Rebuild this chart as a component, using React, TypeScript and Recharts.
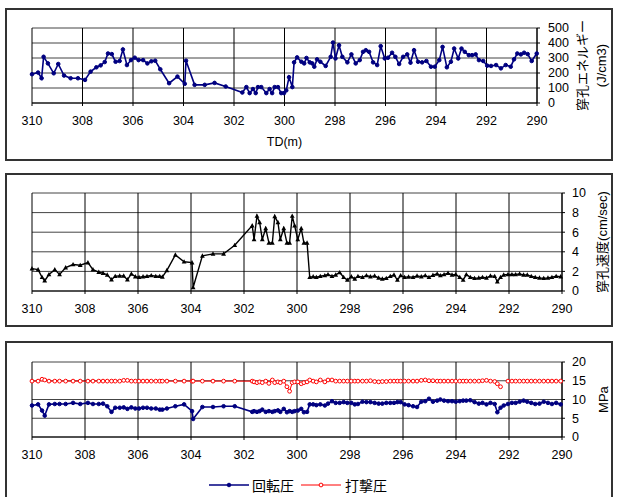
import React from 'react'
import { LineChart, Line, XAxis, YAxis, CartesianGrid } from 'recharts'

const depthTicks = [310, 308, 306, 304, 302, 300, 298, 296, 294, 292, 290]
const energyTicks = [0, 100, 200, 300, 400, 500]
const speedTicks = [0, 2, 4, 6, 8, 10]
const pressureTicks = [0, 5, 10, 15, 20]

// 穿孔エネルギー (J/cm3)
const energyDepth = [
  310.0, 309.76, 309.62, 309.54, 309.37, 309.14, 308.96, 308.73, 308.47, 308.18,
  307.9, 307.68, 307.45, 307.28, 307.12, 306.99, 306.84, 306.69, 306.53, 306.4,
  306.24, 306.08, 305.93, 305.78, 305.6, 305.43, 305.27, 305.12, 304.92, 304.57,
  304.24, 303.95, 303.9, 303.56, 303.16, 302.77, 302.33, 301.67, 301.51, 301.38,
  301.25, 301.14, 301.05, 300.92, 300.72, 300.59, 300.49, 300.39, 300.26, 300.13,
  300.02, 299.93, 299.82, 299.69, 299.62, 299.5, 299.33, 299.22, 299.13, 299.0,
  298.9, 298.82, 298.71, 298.58, 298.37, 298.17, 298.08, 297.98, 297.84, 297.71,
  297.51, 297.35, 297.18, 297.02, 296.89, 296.78, 296.65, 296.49, 296.33, 296.19,
  296.03, 295.9, 295.74, 295.61, 295.46, 295.3, 295.14, 295.01, 294.87, 294.71,
  294.55, 294.38, 294.2, 294.05, 293.87, 293.74, 293.57, 293.41, 293.28, 293.12,
  292.99, 292.86, 292.7, 292.57, 292.43, 292.3, 292.13, 291.97, 291.82, 291.62,
  291.43, 291.24, 291.04, 290.91, 290.78, 290.64, 290.51, 290.37, 290.21, 290.01,
]
const energy = [
  192, 203, 165, 308, 264, 198, 260, 183, 165, 165,
  154, 209, 238, 251, 273, 330, 326, 275, 280, 357,
  253, 286, 302, 286, 286, 264, 278, 282, 225, 132,
  176, 128, 282, 121, 121, 134, 110, 70, 106, 66,
  93, 66, 106, 106, 66, 93, 66, 106, 106, 66,
  66, 84, 172, 106, 271, 304, 275, 264, 300, 271,
  264, 242, 291, 275, 247, 308, 403, 297, 385, 308,
  271, 324, 264, 286, 341, 352, 341, 271, 253, 379,
  297, 302, 335, 308, 260, 308, 324, 269, 352, 275,
  271, 280, 242, 242, 286, 374, 238, 275, 363, 297,
  363, 341, 319, 319, 324, 286, 280, 249, 247, 253,
  231, 253, 242, 291, 330, 324, 335, 326, 280, 330,
]

// 穿孔速度 / 回転圧 / 打撃圧 share the same depths
const depth = [
  310.0, 309.77, 309.62, 309.52, 309.36, 309.14, 308.96, 308.73, 308.45, 308.18,
  307.89, 307.7, 307.48, 307.32, 307.16, 307.0, 306.86, 306.69, 306.54, 306.4,
  306.25, 306.1, 305.96, 305.81, 305.66, 305.5, 305.33, 305.18, 305.08, 304.91,
  304.59, 304.26, 303.96, 303.92, 303.57, 303.17, 302.77, 302.35, 301.69, 301.62,
  301.51, 301.41, 301.31, 301.18, 301.06, 300.93, 300.84, 300.72, 300.63, 300.5,
  300.38, 300.28, 300.18, 300.09, 299.97, 299.84, 299.74, 299.62, 299.52, 299.39,
  299.27, 299.12, 298.95, 298.83, 298.68, 298.54, 298.39, 298.24, 298.1, 297.95,
  297.82, 297.7, 297.53, 297.38, 297.23, 297.07, 296.92, 296.78, 296.63, 296.48,
  296.34, 296.21, 296.09, 295.94, 295.79, 295.62, 295.47, 295.31, 295.16, 295.02,
  294.87, 294.71, 294.59, 294.45, 294.3, 294.15, 294.01, 293.86, 293.73, 293.61,
  293.46, 293.3, 293.14, 293.0, 292.85, 292.7, 292.54, 292.44, 292.32, 292.2,
  292.04, 291.89, 291.75, 291.6, 291.45, 291.31, 291.16, 291.01, 290.85, 290.69,
  290.53, 290.38, 290.22, 290.05,
]
const speed = [
  2.28, 2.18, 1.4, 1.05, 1.68, 2.18, 1.68, 2.39, 2.7, 2.63,
  2.9, 2.18, 1.93, 1.82, 1.65, 1.16, 1.5, 1.54, 1.54, 1.16,
  1.75, 1.47, 1.4, 1.47, 1.5, 1.58, 1.5, 1.5, 1.44, 2.1,
  3.68, 2.98, 2.9, 0.35, 3.58, 3.79, 3.79, 4.67, 6.67, 5.26,
  7.65, 7.0, 5.26, 6.39, 4.91, 4.91, 7.61, 7.0, 5.26, 6.39,
  4.91, 4.91, 7.65, 6.67, 5.26, 6.39, 4.91, 4.91, 1.4, 1.47,
  1.4, 1.5, 1.58, 1.68, 1.5, 1.65, 1.89, 1.4, 1.12, 1.47,
  1.23, 1.5, 1.4, 1.58, 1.47, 1.54, 1.33, 1.23, 1.3, 1.5,
  1.65, 1.12, 1.58, 1.4, 1.44, 1.4, 1.54, 1.47, 1.58, 1.4,
  1.61, 1.75, 1.58, 1.68, 1.82, 1.65, 1.68, 1.4, 1.12, 1.68,
  1.4, 1.3, 1.33, 1.4, 1.33, 1.54, 1.5, 0.95, 1.4, 1.65,
  1.68, 1.68, 1.68, 1.75, 1.65, 1.65, 1.5, 1.4, 1.33, 1.3,
  1.33, 1.4, 1.5, 1.47,
]
const rotation = [
  8.4, 8.7, 7.05, 5.7, 8.7, 8.8, 8.8, 8.8, 9.1, 8.8,
  9.1, 8.8, 8.8, 8.9, 8.2, 6.7, 7.8, 7.8, 7.9, 7.5,
  7.9, 7.6, 7.6, 7.8, 7.8, 7.6, 7.6, 7.3, 7.3, 7.6,
  8.2, 8.7, 6.9, 4.8, 8.0, 8.0, 8.2, 8.2, 6.7, 6.9,
  6.7, 6.9, 7.3, 6.7, 6.9, 6.7, 6.9, 7.1, 6.7, 7.5,
  6.6, 6.9, 6.7, 6.9, 7.05, 7.5, 6.6, 6.7, 8.7, 8.7,
  8.5, 8.7, 8.4, 8.9, 9.55, 9.1, 9.1, 9.3, 9.1, 9.1,
  8.7, 8.8, 9.4, 9.3, 9.3, 9.1, 8.9, 8.9, 9.1, 9.1,
  9.1, 9.3, 9.3, 8.7, 8.5, 8.2, 8.0, 9.4, 9.55, 10.2,
  9.4, 9.7, 10.0, 9.7, 9.55, 9.55, 9.4, 9.55, 9.7, 9.7,
  9.8, 9.3, 8.9, 9.1, 8.7, 9.1, 8.8, 6.6, 7.8, 8.4,
  8.8, 9.1, 9.1, 9.4, 9.7, 9.4, 9.1, 8.8, 8.9, 9.4,
  9.1, 8.8, 9.1, 8.7,
]
const percussion = [
  14.9, 14.9, 15.4, 15.2, 14.9, 14.9, 14.9, 14.9, 14.9, 14.9,
  14.9, 14.9, 14.9, 14.9, 14.9, 14.9, 14.9, 14.9, 15.1, 15.1,
  14.9, 14.9, 14.9, 14.9, 14.9, 14.9, 14.9, 14.9, 14.9, 14.9,
  14.9, 14.9, 14.9, 14.9, 14.9, 14.9, 14.9, 14.9, 14.9, 14.7,
  14.5, 14.7, 14.5, 14.9, 14.3, 15.2, 14.5, 14.7, 14.5, 14.9,
  13.4, 12.2, 14.5, 14.7, 14.7, 14.2, 14.5, 14.7, 15.2, 14.9,
  14.7, 15.2, 14.7, 15.2, 15.2, 14.9, 14.9, 14.9, 14.9, 14.9,
  14.9, 14.9, 14.9, 14.9, 15.0, 14.8, 14.7, 14.8, 14.8, 14.9,
  14.9, 14.9, 14.9, 14.9, 14.9, 14.9, 14.9, 15.1, 15.2, 15.0,
  15.0, 14.9, 14.9, 14.9, 14.9, 14.9, 14.9, 14.9, 14.9, 14.9,
  14.9, 14.9, 14.9, 15.0, 15.1, 14.9, 14.8, 14.2, 13.4, null,
  14.9, 14.9, 14.9, 14.9, 14.9, 14.9, 14.9, 14.9, 14.9, 14.9,
  14.9, 14.9, 14.9, 14.9,
]

const FONT = '"Liberation Sans", Arial, "Noto Sans CJK JP", sans-serif'
const NAVY = '#000080'
const RED = '#ff0000'

const energyData = energyDepth.map((d, i) => ({ depth: d, energy: energy[i] }))
const drillData = depth.map((d, i) => ({
  depth: d,
  speed: speed[i],
  rotation: rotation[i],
  percussion: percussion[i],
}))

const tickStyle = { fontSize: 12.5, fill: '#000', fontFamily: FONT }

// vertical axis title(s) placed to the right of the tick labels
const sideTitle = (items: { text: string; dx: number }[]) => (props: any) => {
  const vb = props.viewBox || {}
  const cy = vb.y + vb.height / 2
  return (
    <g>
      {items.map((it) => {
        const x = vb.x + it.dx
        return (
          <text
            key={it.text}
            x={x}
            y={cy}
            transform={`rotate(-90 ${x} ${cy})`}
            textAnchor="middle"
            dominantBaseline="central"
            fontSize={13}
            fontFamily={FONT}
            fill="#000"
          >
            {it.text}
          </text>
        )
      })}
    </g>
  )
}

const Triangle = (props: any) => {
  const { cx, cy, index } = props
  if (cx == null || cy == null) return <g key={index} />
  return (
    <path
      key={index}
      d={`M${cx},${cy - 2.6}L${cx + 2.4},${cy + 1.8}L${cx - 2.4},${cy + 1.8}Z`}
      fill="#000"
    />
  )
}

export default function App() {
  return (
    <div
      style={{
        position: 'fixed',
        left: 0,
        top: 0,
        width: 618,
        height: 497,
        overflow: 'hidden',
        background: '#fff',
        fontFamily: FONT,
      }}
    >
      {/* 穿孔エネルギー */}
      <div style={{ position: 'absolute', left: 0, top: 0 }}>
        <LineChart width={618} height={165} data={energyData} margin={{ top: 28, right: 41, bottom: 32, left: 32 }}>
          <CartesianGrid horizontal vertical={false} stroke="#444" />
          <CartesianGrid horizontal={false} vertical stroke="#000" />
          <XAxis
            dataKey="depth"
            type="number"
            domain={[290, 310]}
            ticks={depthTicks}
            reversed
            height={30}
            tick={tickStyle}
            tickSize={3}
            tickMargin={10}
            stroke="#000"
            interval={0}
            label={{ value: 'TD(m)', position: 'bottom', offset: 4, fontSize: 12.5, fill: '#000', fontFamily: FONT }}
          />
          <YAxis
            orientation="right"
            type="number"
            domain={[0, 500]}
            ticks={energyTicks}
            width={40}
            tick={{ ...tickStyle, textAnchor: 'start' }}
            tickSize={3}
            tickMargin={8}
            stroke="#000"
            interval={0}
            label={{ content: sideTitle([{ text: '穿孔エネルギー', dx: 45.5 }, { text: '(J/cm3)', dx: 64 }]) }}
          />
          <Line
            dataKey="energy"
            type="linear"
            stroke={NAVY}
            strokeWidth={1.6}
            dot={{ r: 1.8, fill: NAVY, stroke: NAVY, strokeWidth: 1 }}
            isAnimationActive={false}
          />
        </LineChart>
      </div>

      {/* 穿孔速度 */}
      <div style={{ position: 'absolute', left: 0, top: 165 }}>
        <LineChart width={618} height={165} data={drillData} margin={{ top: 28, right: 16, bottom: 9, left: 32 }}>
          <CartesianGrid horizontal vertical={false} stroke="#444" />
          <CartesianGrid horizontal={false} vertical stroke="#000" />
          <XAxis
            dataKey="depth"
            type="number"
            domain={[290, 310]}
            ticks={depthTicks}
            reversed
            height={30}
            tick={tickStyle}
            tickSize={3}
            tickMargin={10}
            stroke="#000"
            interval={0}
          />
          <YAxis
            orientation="right"
            type="number"
            domain={[0, 10]}
            ticks={speedTicks}
            width={40}
            tick={{ ...tickStyle, textAnchor: 'start' }}
            tickSize={3}
            tickMargin={7}
            stroke="#000"
            interval={0}
            label={{ content: sideTitle([{ text: '穿孔速度(cm/sec)', dx: 40 }]) }}
          />
          <Line
            dataKey="speed"
            type="linear"
            stroke="#000"
            strokeWidth={1.4}
            dot={Triangle}
            isAnimationActive={false}
          />
        </LineChart>
      </div>

      {/* 回転圧・打撃圧 */}
      <div style={{ position: 'absolute', left: 0, top: 330 }}>
        <LineChart width={618} height={167} data={drillData} margin={{ top: 32, right: 16, bottom: 30, left: 32 }}>
          <CartesianGrid horizontal vertical={false} stroke="#444" />
          <CartesianGrid horizontal={false} vertical stroke="#000" />
          <XAxis
            dataKey="depth"
            type="number"
            domain={[290, 310]}
            ticks={depthTicks}
            reversed
            height={30}
            tick={tickStyle}
            tickSize={3}
            tickMargin={10}
            stroke="#000"
            interval={0}
          />
          <YAxis
            orientation="right"
            type="number"
            domain={[0, 20]}
            ticks={pressureTicks}
            width={40}
            tick={{ ...tickStyle, textAnchor: 'start' }}
            tickSize={3}
            tickMargin={7}
            stroke="#000"
            interval={0}
            label={{ content: sideTitle([{ text: 'MPa', dx: 41 }]) }}
          />
          <Line
            dataKey="rotation"
            name="回転圧"
            type="linear"
            stroke={NAVY}
            strokeWidth={1.6}
            dot={{ r: 1.8, fill: NAVY, stroke: NAVY, strokeWidth: 1 }}
            isAnimationActive={false}
          />
          <Line
            dataKey="percussion"
            name="打撃圧"
            type="linear"
            stroke={RED}
            strokeWidth={1}
            connectNulls={false}
            dot={{ r: 1.9, fill: '#fff', stroke: RED, strokeWidth: 1 }}
            isAnimationActive={false}
          />
        </LineChart>
      </div>

      {/* legend */}
      <div
        style={{
          position: 'absolute',
          left: 209,
          top: 476,
          height: 18,
          display: 'flex',
          alignItems: 'center',
          fontSize: 14,
          color: '#000',
        }}
      >
        <svg width={40} height={10}>
          <line x1={0} y1={5} x2={40} y2={5} stroke={NAVY} strokeWidth={1.6} />
          <circle cx={20} cy={5} r={1.8} fill={NAVY} stroke={NAVY} />
        </svg>
        <span style={{ marginLeft: 3 }}>回転圧</span>
        <svg width={40} height={10} style={{ marginLeft: 7 }}>
          <line x1={0} y1={5} x2={40} y2={5} stroke={RED} strokeWidth={1} />
          <circle cx={20} cy={5} r={1.9} fill="#fff" stroke={RED} />
        </svg>
        <span style={{ marginLeft: 4 }}>打撃圧</span>
      </div>

      {/* panel frames drawn on top */}
      <svg
        width={618}
        height={497}
        style={{ position: 'absolute', left: 0, top: 0, pointerEvents: 'none' }}
      >
        <rect x={6} y={9} width={606} height={151} fill="none" stroke="#333" strokeWidth={2} />
        <rect x={6} y={174} width={606} height={152} fill="none" stroke="#333" strokeWidth={2} />
        <rect x={6} y={342} width={606} height={170} fill="none" stroke="#333" strokeWidth={2} />
      </svg>
    </div>
  )
}
